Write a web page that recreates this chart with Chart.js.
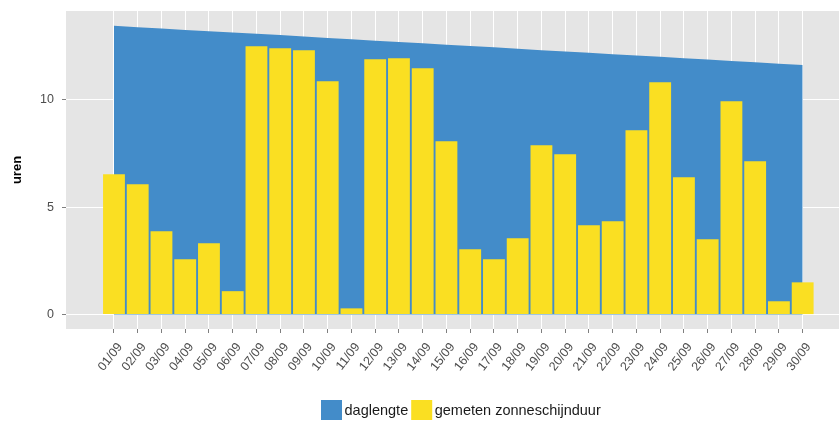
<!DOCTYPE html>
<html>
<head>
<meta charset="utf-8">
<script src="https://cdn.jsdelivr.net/npm/chart.js@4/dist/chart.umd.min.js"></script>
<style>
html,body{margin:0;padding:0;background:#fff;}
#wrap{position:relative;width:839px;height:421px;}
</style>
</head>
<body>
<div id="wrap"><canvas id="c"></canvas></div>
<script>
const days = ['01/09','02/09','03/09','04/09','05/09','06/09','07/09','08/09','09/09','10/09',
  '11/09','12/09','13/09','14/09','15/09','16/09','17/09','18/09','19/09','20/09',
  '21/09','22/09','23/09','24/09','25/09','26/09','27/09','28/09','29/09','30/09'];
const daglengte = [13.43,13.37,13.31,13.24,13.18,13.12,13.06,13.00,12.93,12.87,
  12.81,12.74,12.68,12.62,12.55,12.49,12.43,12.36,12.30,12.24,
  12.18,12.11,12.05,11.99,11.92,11.86,11.80,11.74,11.67,11.61];
const zonneschijn = [6.53,6.06,3.88,2.57,3.32,1.09,12.48,12.39,12.29,10.85,
  0.29,11.88,11.92,11.46,8.06,3.04,2.57,3.55,7.88,7.46,
  4.16,4.34,8.57,10.81,6.39,3.50,9.92,7.13,0.62,1.50];
const yTicks = [0,5,10];
const seriesNames = ['daglengte','gemeten zonneschijnduur'];

const BLUE = '#438CC9';
const YELLOW = '#FADF22';
const PANEL = '#E5E5E5';

const panelBg = {
  id:'panelBg',
  beforeDraw(chart){
    const a = chart.chartArea, ctx = chart.ctx;
    ctx.save();
    ctx.fillStyle = PANEL;
    ctx.fillRect(a.left, a.top, a.right-a.left, a.bottom-a.top);
    ctx.restore();
  }
};

const ggLegend = {
  id:'ggLegend',
  afterDraw(chart){
    const ctx = chart.ctx;
    ctx.save();
    ctx.font = '14.5px "Liberation Sans", Arial, sans-serif';
    ctx.textBaseline = 'middle';
    ctx.textAlign = 'left';
    let x = 321;
    const y = 400, bw = 21, bh = 20;
    chart.data.datasets.forEach((ds, i) => {
      ctx.fillStyle = ds.backgroundColor;
      ctx.fillRect(x, y, bw, bh);
      x += bw + 2.5;
      ctx.fillStyle = '#1a1a1a';
      ctx.fillText(ds.label, x, y + bh/2 + 0.5);
      x += ctx.measureText(ds.label).width + 3;
    });
    ctx.restore();
  }
};

const chart = new Chart(document.getElementById('c'), {
  type:'bar',
  data:{
    datasets:[
      {
        type:'line',
        label:seriesNames[0],
        data:days.map((d,i)=>({x:i+1, y:daglengte[i]})),
        fill:'origin',
        backgroundColor:BLUE,
        borderColor:BLUE,
        borderWidth:0,
        pointRadius:0,
        tension:0,
        order:2
      },
      {
        type:'bar',
        label:seriesNames[1],
        data:days.map((d,i)=>({x:i+1, y:zonneschijn[i]})),
        backgroundColor:YELLOW,
        borderWidth:0,
        barPercentage:0.92,
        categoryPercentage:1,
        order:1
      }
    ]
  },
  options:{
    responsive:true,
    maintainAspectRatio:false,
    animation:false,
    layout:{padding:{top:11,right:0,bottom:0,left:0}},
    plugins:{legend:{display:false}, tooltip:{enabled:false}},
    scales:{
      x:{
        type:'linear',
        offset:false,
        min:-1.02,
        max:31.53,
        border:{display:false},
        grid:{color:'#FFFFFF', lineWidth:1, tickColor:'#7F7F7F', tickLength:4, offset:false},
        afterBuildTicks(scale){ scale.ticks = days.map((d,i)=>({value:i+1})); },
        afterFit(scale){ scale.height = 92; scale.paddingLeft = 0; scale.paddingRight = 0; },
        ticks:{
          autoSkip:false,
          minRotation:52,
          maxRotation:52,
          padding:7,
          labelOffset:6,
          color:'#4D4D4D',
          font:{family:'"Liberation Sans", Arial, sans-serif', size:12.5},
          callback:(v)=>days[v-1]
        }
      },
      y:{
        min:-0.67,
        max:14.12,
        border:{display:false},
        grid:{color:'#FFFFFF', lineWidth:1, tickColor:'#7F7F7F', tickLength:4},
        afterBuildTicks(scale){ scale.ticks = yTicks.map(v=>({value:v})); },
        afterFit(scale){ scale.width = 66; scale.paddingTop = 0; scale.paddingBottom = 0; },
        ticks:{
          padding:8,
          color:'#4D4D4D',
          font:{family:'"Liberation Sans", Arial, sans-serif', size:12.5}
        },
        title:{
          display:true,
          text:'uren',
          color:'#000000',
          padding:{top:10,bottom:0},
          font:{family:'"Liberation Sans", Arial, sans-serif', size:13, weight:'bold'}
        }
      }
    }
  },
  plugins:[panelBg, ggLegend]
});
</script>
</body>
</html>
